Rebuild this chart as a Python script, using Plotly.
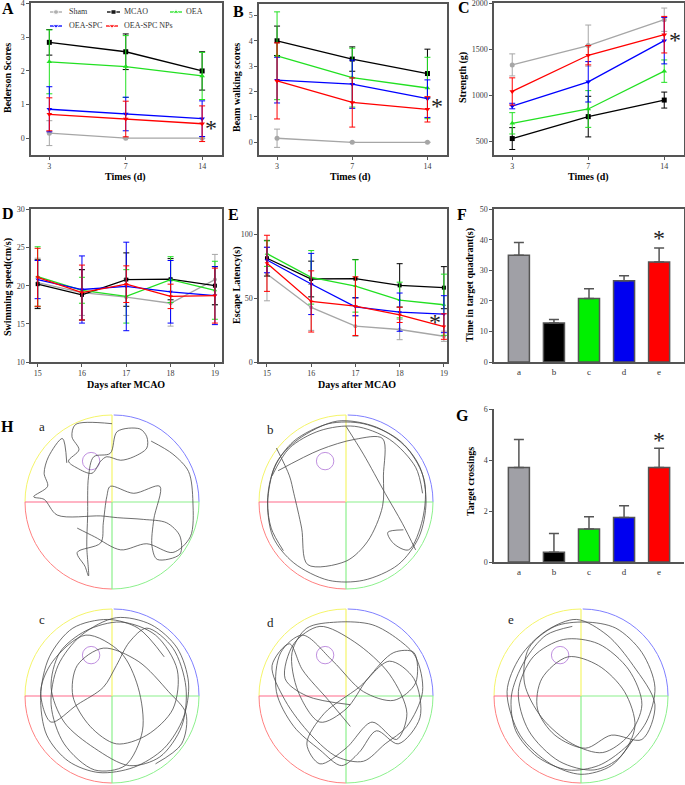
import plotly.graph_objects as go

W, H = 685, 785
SERIF = "Liberation Serif"


def fx(p):
    return p / W


def fy(p):
    return 1 - p / H


# ---------------- data ----------------
GROUPS = ["Sham", "MCAO", "OEA", "OEA-SPC", "OEA-SPC NPs"]
COLORS = ["#a6a6a6", "#000000", "#22e022", "#0000ff", "#ff0000"]
SYMBOLS = ["circle", "square", "triangle-up", "triangle-down", "triangle-down"]

TIMES = ["3", "7", "14"]
BED_MEAN = [[0.15, 0.0, 0.0], [2.85, 2.57, 2.0], [2.27, 2.13, 1.85], [0.86, 0.72, 0.58], [0.71, 0.57, 0.43]]
BED_ERR = [[0.37, 0.0, 0.0], [0.38, 0.53, 0.57], [0.95, 0.92, 0.70], [0.67, 0.50, 0.53], [0.49, 0.53, 0.53]]

BEAM_MEAN = [[0.16, 0.0, 0.0], [4.0, 3.28, 2.71], [3.41, 2.55, 2.14], [2.45, 2.29, 1.72], [2.42, 1.57, 1.30]]
BEAM_ERR = [[0.36, 0.0, 0.0], [0.58, 0.48, 0.96], [1.73, 1.16, 1.21], [0.9, 0.95, 0.74], [1.5, 0.97, 0.5]]

STR_MEAN = [[1331, 1541, 1823], [529, 768, 948], [695, 851, 1263], [883, 1147, 1595], [1042, 1436, 1660]]
STR_ERR = [[120, 224, 127], [119, 221, 87], [116, 200, 122], [30, 220, 253], [148, 105, 199]]

DAYS = [15, 16, 17, 18, 19]
SWIM_MEAN = [[20.4, 19.1, 18.5, 17.7, 20.8], [20.2, 18.8, 20.8, 20.85, 20.0],
             [21.2, 19.4, 18.6, 20.8, 19.4], [20.8, 19.5, 19.9, 19.2, 18.7], [21.1, 19.1, 20.2, 18.6, 18.7]]
SWIM_ERR = [[3.2, 3.0, 2.4, 3.0, 3.3], [3.2, 3.3, 3.5, 2.7, 2.5], [3.9, 1.7, 3.5, 3.0, 3.8],
            [2.5, 4.4, 5.8, 4.1, 3.8], [3.8, 3.6, 2.4, 1.6, 3.6]]

ESC_MEAN = [[69, 42.8, 28.1, 25.5, 20.2], [81.4, 65.1, 65.4, 60.1, 58.3], [85, 66.4, 59.6, 48.6, 44.9],
            [80, 61.2, 43.3, 39.1, 37.5], [77.4, 47.5, 43.8, 37, 27.8]]
ESC_ERR = [[21, 18, 8, 8, 4], [14, 14, 15, 17, 16.5], [10, 21, 20.5, 14, 24],
           [10, 24, 7, 15, 14.5], [22, 24, 23, 6, 10]]

BAR_LABELS = ["a", "b", "c", "d", "e"]
BAR_COLORS = ["#a0a0a6", "#000000", "#00f000", "#0000f0", "#ff0000"]
QUAD_MEAN = [35.0, 12.8, 20.8, 26.6, 32.8]
QUAD_ERR = [4.2, 1.1, 3.2, 1.7, 4.6]
CROSS_MEAN = [3.72, 0.38, 1.3, 1.75, 3.72]
CROSS_ERR = [1.1, 0.74, 0.48, 0.46, 0.76]

# swim paths (normalised to pool radius), None separates segments
PATH_A_X = [0.0, -0.42, -0.46, -0.38, -0.50, -0.40, -0.23, -0.13, -0.06, 0.10, 0.25, 0.40, 0.40, 0.32, 0.06, -0.02,
            -0.21, -0.27, -0.28, -0.29, -0.27, -0.31, -0.40, -0.13, -0.10, -0.06, -0.02, 0.25, 0.55, 0.48, 0.46, 0.52,
            0.78, 0.78, 0.63, 0.36, 0.06, -0.13, -0.63, -0.78, -0.90, -0.74, -0.78, -0.73, -0.57, -0.52, None,
            0.45, 0.70, 0.88, 0.93, 0.90, 0.70, 0.40, 0.10, -0.20, -0.40]
PATH_A_Y = [0.90, 0.89, 0.75, 0.60, 0.47, 0.39, 0.33, 0.47, 0.52, 0.48, 0.52, 0.62, 0.75, 0.84, 0.81, 0.56,
            0.52, 0.29, -0.16, -0.51, -0.85, -0.74, -0.58, -0.47, -0.24, 0.06, 0.18, 0.10, 0.18, -0.20, -0.51, -0.66,
            -0.60, -0.39, -0.24, -0.20, -0.18, -0.16, -0.15, 0.03, 0.06, 0.18, 0.33, 0.52, 0.73, 0.45, None,
            0.70, 0.55, 0.35, 0.0, -0.40, -0.58, -0.48, -0.55, -0.40, -0.30]

PATH_B_X = [-0.72, -0.86, -0.90, -0.82, -0.60, -0.20, 0.20, 0.60, 0.85, 0.92, 0.84, 0.60, 0.20, -0.20, -0.60, -0.84,
            -0.90, -0.80, -0.55, -0.10, 0.35, 0.70, 0.90, 0.88, 0.72, 0.55, 0.48, 0.66, None,
            -0.78, -0.30, 0.10, 0.42, 0.43, 0.42, 0.25, 0.00, -0.44, -0.51, -0.60, -0.65, -0.80, None,
            0.00, 0.20, 0.45, 0.65, 0.80, None,
            -0.85, -0.65, -0.30, 0.10, 0.50, 0.80, 0.88]
PATH_B_Y = [-0.56, -0.30, 0.00, 0.40, 0.70, 0.90, 0.90, 0.72, 0.40, 0.00, -0.40, -0.72, -0.90, -0.90, -0.70, -0.40,
            0.05, 0.45, 0.72, 0.93, 0.86, 0.62, 0.25, -0.20, -0.55, -0.48, -0.35, -0.32, None,
            0.36, 0.60, 0.72, 0.73, 0.30, -0.05, -0.45, -0.68, -0.72, -0.30, 0.10, 0.30, 0.62, None,
            0.87, 0.55, 0.10, -0.25, -0.55, None,
            0.30, 0.62, 0.82, 0.87, 0.72, 0.40, 0.10]

PATH_C_X = [0.60, 0.30, -0.05, -0.45, -0.72, -0.82, -0.75, -0.50, -0.15, 0.25, 0.60, 0.82, 0.88, 0.75, 0.45,
            0.05, -0.35, -0.62, -0.70, -0.55, -0.20, 0.15, 0.35, 0.30, 0.10, -0.30, -0.68, -0.82, -0.70, -0.40,
            -0.10, 0.05, 0.20, 0.40, 0.70, 0.85, 0.80, 0.55, 0.20, -0.20, -0.55, -0.70, -0.60, -0.30, 0.10,
            0.50, 0.75, 0.70, 0.40, 0.05, -0.25, -0.45, -0.40, -0.10, 0.30, 0.65, 0.85, 0.80, 0.50]
PATH_C_Y = [0.45, 0.78, 0.88, 0.78, 0.45, 0.00, -0.45, -0.75, -0.88, -0.82, -0.60, -0.25, 0.15, 0.55, 0.82,
            0.90, 0.70, 0.35, -0.10, -0.55, -0.85, -0.80, -0.40, 0.10, 0.50, 0.70, 0.40, 0.05, -0.30, -0.10,
            0.10, 0.35, 0.62, 0.78, 0.55, 0.10, -0.35, -0.70, -0.80, -0.60, -0.30, 0.10, 0.50, 0.75, 0.85,
            0.70, 0.30, -0.15, -0.45, -0.55, -0.35, 0.00, 0.35, 0.55, 0.40, 0.05, -0.20, -0.55, -0.78]

PATH_D_X = [0.05, -0.20, -0.50, -0.65, -0.85, -0.70, -0.40, -0.10, 0.20, 0.45, 0.70, 0.88, 0.80, 0.60, 0.30,
            -0.10, -0.45, -0.62, -0.55, -0.30, 0.00, 0.25, 0.55, 0.78, 0.80, 0.55, 0.20, -0.15, -0.50, -0.75,
            -0.80, -0.60, -0.30, -0.05, 0.15, 0.35, 0.60, 0.85, 0.78, 0.50, 0.15, -0.25, -0.45, -0.30, 0.00,
            0.30, 0.58, 0.70, 0.50, 0.10, -0.30, -0.60, -0.70, -0.45, 0.05]
PATH_D_Y = [-0.35, -0.05, 0.30, 0.60, 0.35, -0.05, -0.45, -0.70, -0.75, -0.55, -0.35, 0.05, 0.45, 0.65, 0.82,
            0.85, 0.78, 0.50, 0.05, -0.30, -0.15, 0.20, 0.50, 0.50, 0.15, -0.05, 0.05, 0.40, 0.70, 0.50,
            0.05, -0.35, -0.62, -0.80, -0.65, -0.40, -0.55, -0.25, 0.20, 0.40, 0.10, -0.20, -0.55, -0.78, -0.60,
            -0.30, -0.50, -0.20, 0.25, 0.62, 0.80, 0.60, 0.20, 0.00, -0.10]

PATH_E_X = [-0.10, -0.40, -0.65, -0.80, -0.75, -0.50, -0.15, 0.20, 0.50, 0.75, 0.85, 0.70, 0.40, 0.05, -0.30,
            -0.60, -0.65, -0.45, -0.10, 0.25, 0.55, 0.70, 0.55, 0.20, -0.20, -0.55, -0.72, -0.60, -0.25, 0.15,
            0.45, 0.62, 0.50, 0.20, -0.15, -0.45, -0.50, -0.30, 0.05, 0.35, 0.70, 0.85, 0.60, 0.30, -0.05,
            -0.40, -0.70, -0.85, -0.70, -0.35, 0.00, 0.35, 0.60]
PATH_E_Y = [0.80, 0.70, 0.40, 0.00, -0.40, -0.70, -0.85, -0.80, -0.60, -0.30, 0.10, 0.50, 0.78, 0.85, 0.80,
            0.55, 0.15, -0.25, -0.55, -0.65, -0.45, -0.10, 0.30, 0.60, 0.65, 0.45, 0.05, -0.40, -0.75, -0.85,
            -0.70, -0.35, 0.05, 0.35, 0.45, 0.20, -0.15, -0.45, -0.60, -0.45, -0.50, -0.10, 0.35, 0.70, 0.88,
            0.75, 0.45, 0.05, -0.45, -0.78, -0.90, -0.80, -0.50]

PATHS = [(PATH_A_X, PATH_A_Y), (PATH_B_X, PATH_B_Y), (PATH_C_X, PATH_C_Y), (PATH_D_X, PATH_D_Y), (PATH_E_X, PATH_E_Y)]

# ---------------- layout helpers ----------------
AX_LINE = "#555555"
TICKFONT = dict(family=SERIF, size=8, color="#3a3a3a")


def axis(dom_px, horizontal, mirror=True, **kw):
    a, b = dom_px
    if horizontal:
        dom = [fx(a), fx(b)]
    else:
        dom = [fy(b), fy(a)]
    d = dict(domain=dom, showline=True, linecolor=AX_LINE, linewidth=1.5, mirror=mirror,
             ticks="outside", ticklen=3, tickcolor=AX_LINE, tickwidth=1, tickfont=TICKFONT,
             showgrid=False, zeroline=False, fixedrange=True, ticklabeloverflow="allow")
    d.update(kw)
    return d


fig = go.Figure()
layout = dict(width=W, height=H, margin=dict(l=0, r=0, t=0, b=0), template="none",
              paper_bgcolor="white", plot_bgcolor="rgba(0,0,0,0)", showlegend=False,
              font=dict(family=SERIF))

# panels A-C
top_panels = [
    ("", BED_MEAN, BED_ERR, (31, 222), (3, 155), [-0.5, 4.02], dict(tickvals=[0, 1, 2, 3, 4])),
    ("2", BEAM_MEAN, BEAM_ERR, (259, 447), (4, 155), [-0.5, 5.45], dict(tickvals=[0, 1, 2, 3, 4, 5])),
    ("3", STR_MEAN, STR_ERR, (494, 684), (3, 155), [350, 2005], dict(tickvals=[500, 1000, 1500, 2000])),
]
for suf, means, errs, xd, yd, yr, yt in top_panels:
    for g in range(5):
        fig.add_trace(go.Scatter(
            x=TIMES, y=means[g], mode="lines+markers", xaxis="x" + suf, yaxis="y" + suf,
            line=dict(color=COLORS[g], width=1.3),
            marker=dict(color=COLORS[g], symbol=SYMBOLS[g], size=5),
            error_y=dict(type="data", array=errs[g], color=COLORS[g], thickness=1, width=3),
            cliponaxis=False))
    layout["xaxis" + suf] = axis(xd, True, type="category", range=[-0.24, 2.26], anchor="y" + suf)
    layout["yaxis" + suf] = axis(yd, False, range=yr, anchor="x" + suf, **yt)

# panels D-E
mid_panels = [
    ("4", SWIM_MEAN, SWIM_ERR, (31, 222), (209, 362), [10, 30.05], [14.85, 19.16], [10, 15, 20, 25, 30]),
    ("5", ESC_MEAN, ESC_ERR, (259, 447), (209, 362), [0, 120], [14.82, 19.07], [0, 50, 100]),
]
for suf, means, errs, xd, yd, yr, xr, yt in mid_panels:
    for g in range(5):
        fig.add_trace(go.Scatter(
            x=DAYS, y=means[g], mode="lines+markers", xaxis="x" + suf, yaxis="y" + suf,
            line=dict(color=COLORS[g], width=1.3),
            marker=dict(color=COLORS[g], symbol=SYMBOLS[g], size=4),
            error_y=dict(type="data", array=errs[g], color=COLORS[g], thickness=1, width=3),
            cliponaxis=False))
    layout["xaxis" + suf] = axis(xd, True, range=xr, tickvals=DAYS, anchor="y" + suf)
    layout["yaxis" + suf] = axis(yd, False, range=yr, tickvals=yt, anchor="x" + suf)

# panels F-G
bar_panels = [
    ("6", QUAD_MEAN, QUAD_ERR, (209, 362), [0, 50.15], [0, 10, 20, 30, 40, 50], True),
    ("7", CROSS_MEAN, CROSS_ERR, (409, 562), [0, 6.02], [0, 2, 4, 6], False),
]
for suf, vals, errs, yd, yr, yt, mir in bar_panels:
    fig.add_trace(go.Bar(
        x=BAR_LABELS, y=vals, xaxis="x" + suf, yaxis="y" + suf, width=0.6,
        marker=dict(color=BAR_COLORS, line=dict(color="#555555", width=1.5)),
        error_y=dict(type="data", array=errs, arrayminus=[0] * 5, symmetric=False,
                     color="#555555", thickness=1.5, width=5)))
    layout["xaxis" + suf] = axis((494, 684), True, mirror=mir, type="category", range=[-0.71, 4.71],
                                 anchor="y" + suf, ticks="", tickfont=dict(family=SERIF, size=9, color="#333"))
    layout["yaxis" + suf] = axis(yd, False, mirror=mir, range=yr, tickvals=yt, anchor="x" + suf)

# panel H: water maze swim paths
shapes = []
centers = [(112, 502), (346, 502), (112, 696), (346, 696), (581, 696)]
R = 87.0
HALF = 88.5
K = 0.5523
for i, (cx, cy) in enumerate(centers):
    n = str(8 + i)
    layout["xaxis" + n] = dict(domain=[fx(cx - HALF), fx(cx + HALF)], range=[-HALF / R, HALF / R],
                               visible=False, fixedrange=True, anchor="y" + n)
    layout["yaxis" + n] = dict(domain=[fy(cy + HALF), fy(cy - HALF)], range=[-HALF / R, HALF / R],
                               visible=False, fixedrange=True, anchor="x" + n)
    xr, yr = "x" + n, "y" + n
    arcs = [
        ("M -1,0 C -1,%g %g,1 0,1" % (K, -K), "#f5f56a"),
        ("M 0.02,1 C %g,1 1,%g 1,0" % (K, K), "#8080ff"),
        ("M 1,0 C 1,%g %g,-1 0,-1" % (-K, K), "#8cf08c"),
        ("M 0,-1 C %g,-1 -1,%g -1,0" % (-K, -K), "#ff8080"),
    ]
    for p, c in arcs:
        shapes.append(dict(type="path", path=p, xref=xr, yref=yr, line=dict(color=c, width=1), layer="below"))
    lines = [((-1, 0), (0, 0), "#ff6a8a"), ((0, 0), (1, 0), "#8cf08c"),
             ((0, 0), (0, 1), "#f5f56a"), ((0, 0), (0, -1), "#8cf08c")]
    for (x0, y0), (x1, y1), c in lines:
        shapes.append(dict(type="line", x0=x0, y0=y0, x1=x1, y1=y1, xref=xr, yref=yr,
                           line=dict(color=c, width=1.2), layer="below"))
    shapes.append(dict(type="circle", x0=-0.34, x1=-0.14, y0=0.37, y1=0.57, xref=xr, yref=yr,
                       line=dict(color="#c090e0", width=1), layer="below"))
    px_, py_ = PATHS[i]
    fig.add_trace(go.Scatter(x=px_, y=py_, mode="lines", xaxis=xr, yaxis=yr,
                             line=dict(color="#4a4a4a", width=0.8, shape="spline", smoothing=0.9),
                             connectgaps=False, hoverinfo="skip"))

# legend overlay axis (pixel coordinates)
layout["xaxis13"] = dict(domain=[0, 1], range=[0, W], visible=False, fixedrange=True, anchor="y13")
layout["yaxis13"] = dict(domain=[0, 1], range=[H, 0], visible=False, fixedrange=True, anchor="x13")
LEG_POS = [(50, 62, 12, 67), (107, 120, 12, 122), (170, 182, 12, 184), (50, 62, 26, 67), (106, 118, 26, 122)]
annotations = []
for g, (x0, x1, yy, tx) in enumerate(LEG_POS):
    fig.add_trace(go.Scatter(x=[x0, (x0 + x1) / 2, x1], y=[yy, yy, yy], mode="lines+markers",
                             xaxis="x13", yaxis="y13", line=dict(color=COLORS[g], width=1.3),
                             marker=dict(color=COLORS[g], symbol=SYMBOLS[g], size=[0, 5, 0]),
                             hoverinfo="skip"))
    annotations.append(dict(x=fx(tx), y=fy(yy), xref="paper", yref="paper", text=GROUPS[g],
                            showarrow=False, xanchor="left", yanchor="middle",
                            font=dict(family=SERIF, size=8, color="#333")))


def ann(x, y, text, size=10, bold=True, angle=0, color="#000", xanchor="center", yanchor="middle"):
    annotations.append(dict(x=fx(x), y=fy(y), xref="paper", yref="paper",
                            text=("<b>%s</b>" % text) if bold else text, showarrow=False,
                            textangle=angle, xanchor=xanchor, yanchor=yanchor,
                            font=dict(family=SERIF, size=size, color=color)))


# panel letters
for t, x, y in [("A", 8, 9), ("B", 238, 12), ("C", 464, 8), ("D", 8, 214), ("E", 233, 215),
                ("F", 462, 215), ("G", 462, 415), ("H", 8, 426)]:
    ann(x, y, t, size=16)
# axis titles
ann(8, 78, "Bederson Scores", angle=-90)
ann(237, 88, "Beam walking scores", angle=-90)
ann(463, 78, "Strength (g)", angle=-90)
ann(8, 287, "Swimming speed(cm/s)", angle=-90)
ann(237, 285, "Escape Latency(s)", angle=-90)
ann(470, 285, "Time in target quadrant(s)", angle=-90)
ann(470, 482, "Target crossings", angle=-90)
ann(125, 177, "Times (d)")
ann(350, 177, "Times (d)")
ann(588, 177, "Times (d)")
ann(126, 384, "Days after MCAO")
ann(357, 384, "Days after MCAO")
# asterisks
for x, y in [(211, 128), (437, 106), (675, 40), (435, 322), (659, 238), (659, 440)]:
    ann(x, y, "*", size=24, bold=False, color="#222")
# H sub labels
for t, x, y in [("a", 42, 426), ("b", 270, 429), ("c", 42, 619), ("d", 270, 622), ("e", 511, 619)]:
    ann(x, y, t, size=13, bold=False, color="#222")

layout["shapes"] = shapes
layout["annotations"] = annotations
fig.update_layout(**layout)
fig.write_html("out.html", config={"displayModeBar": False},
               post_script="document.body.style.margin='0px';")
